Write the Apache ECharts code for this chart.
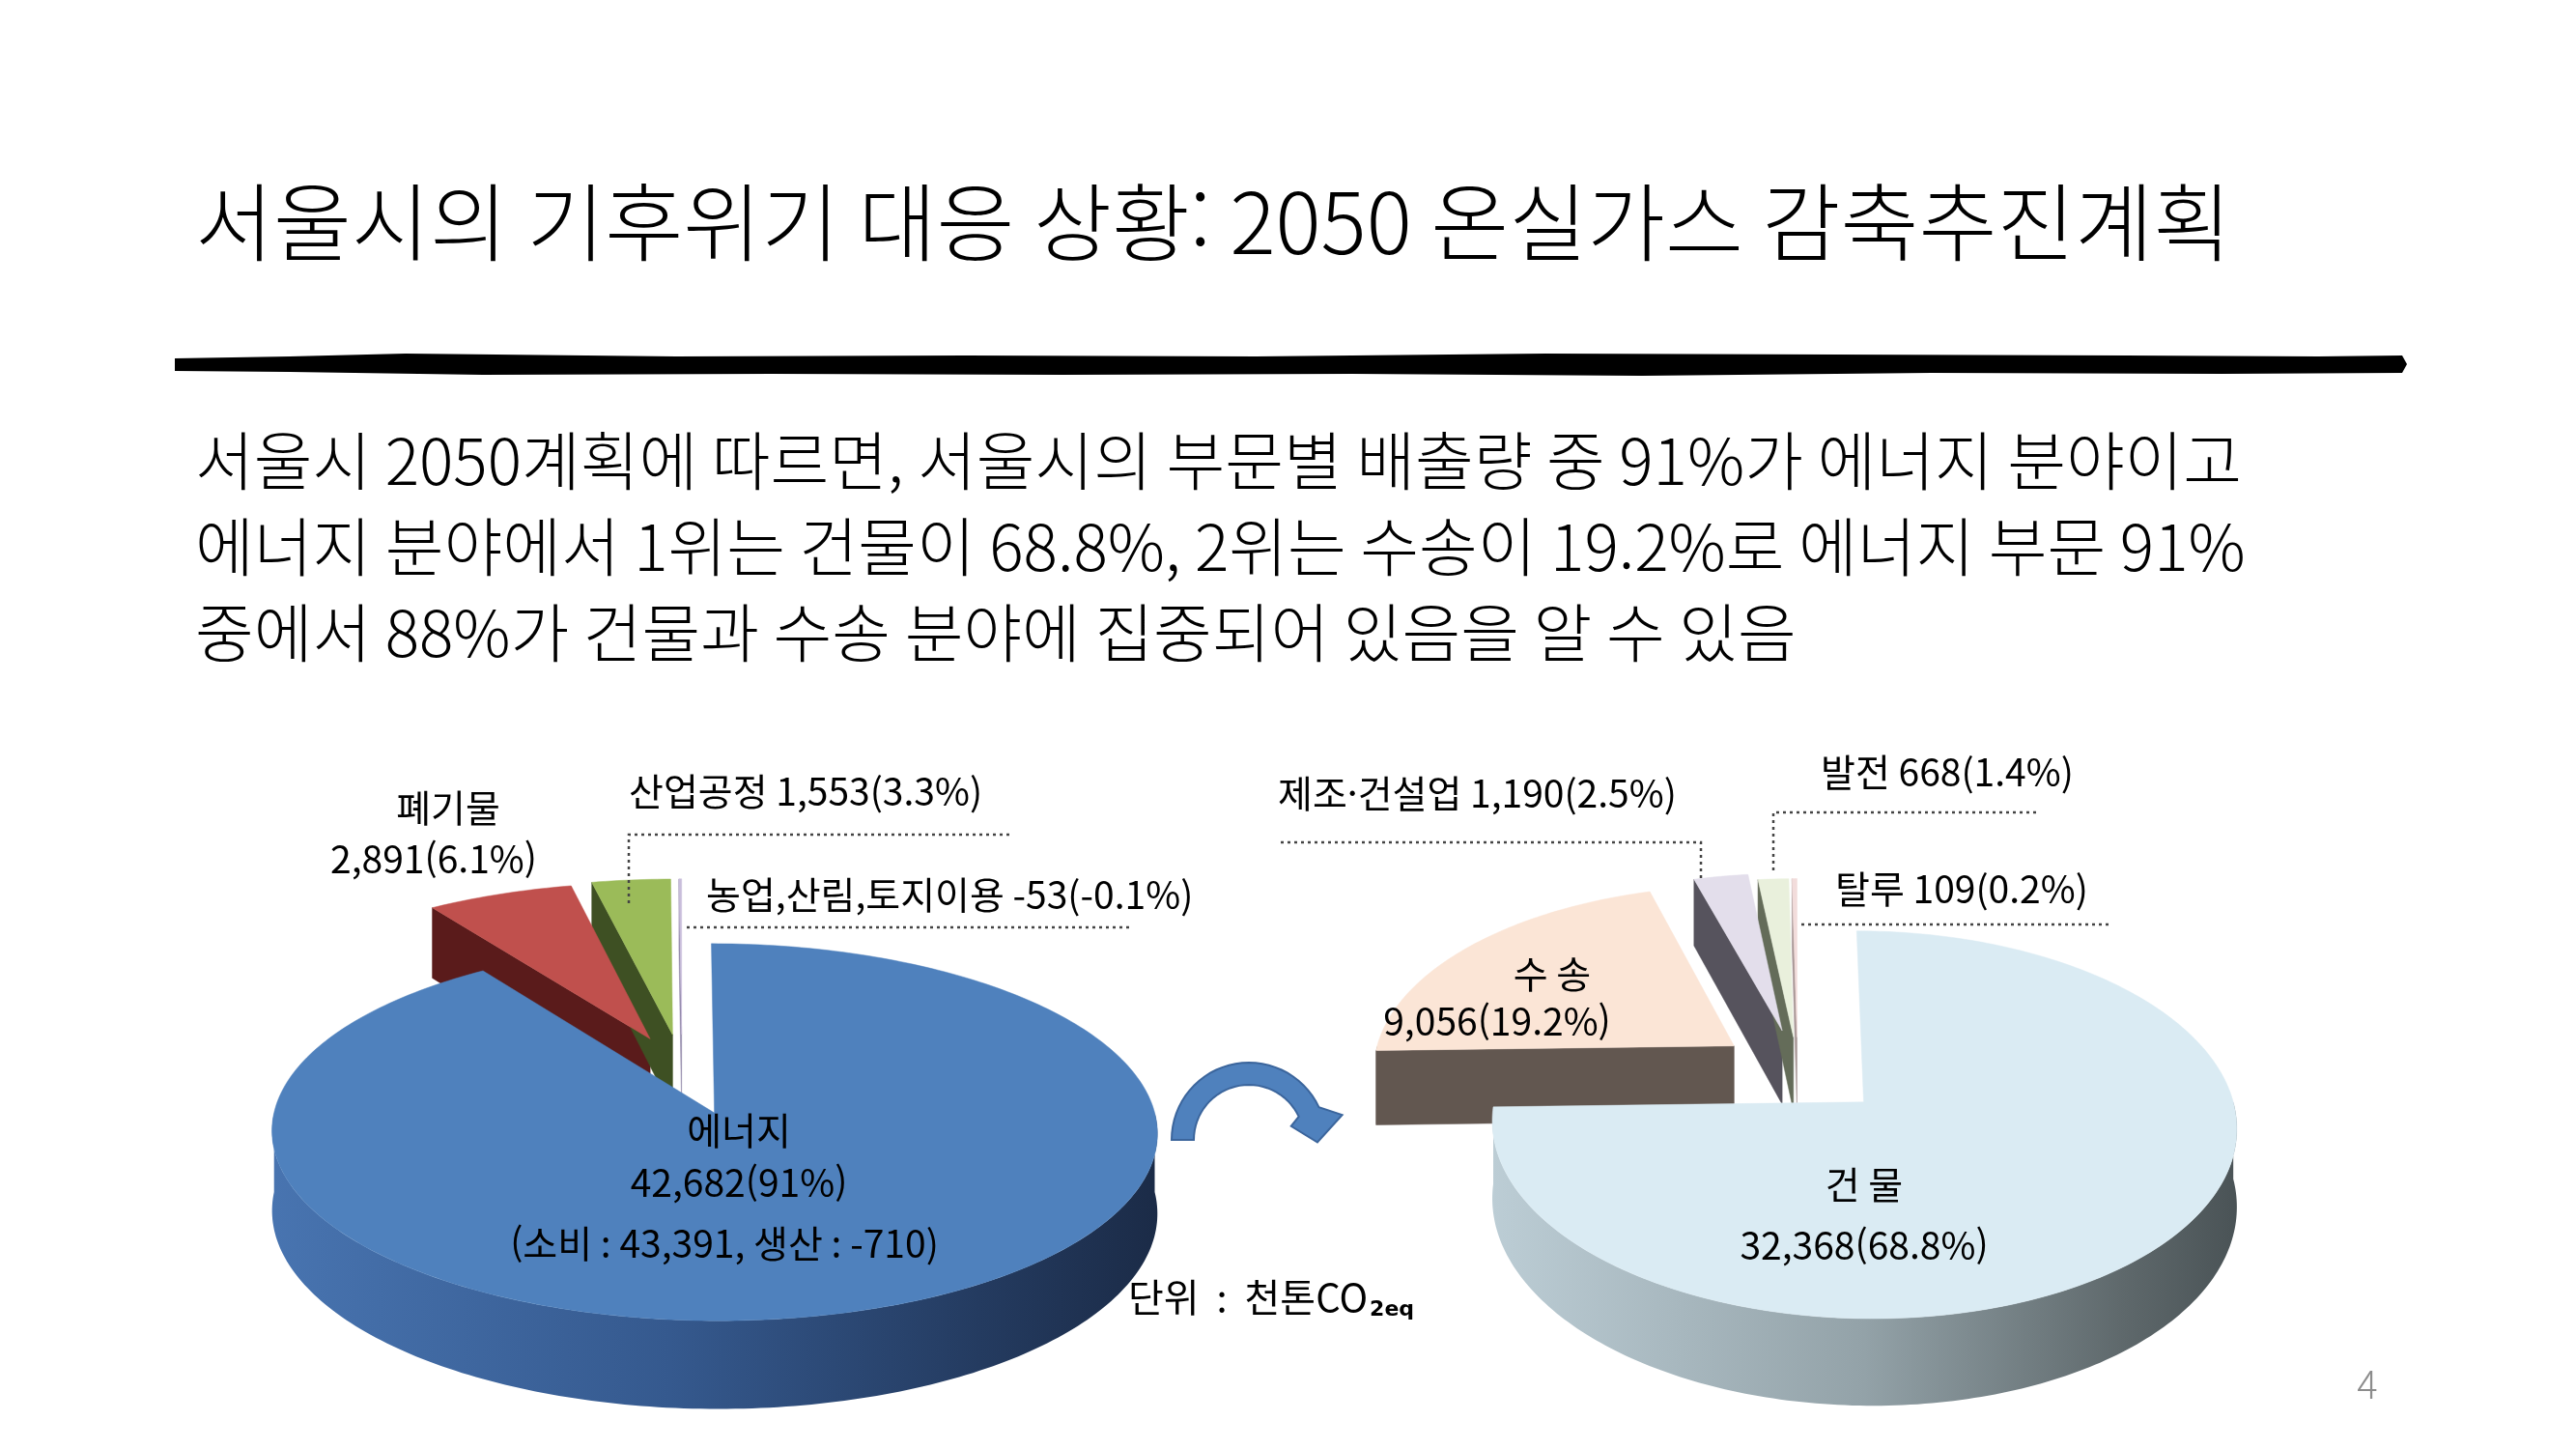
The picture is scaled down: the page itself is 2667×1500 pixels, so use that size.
<!DOCTYPE html>
<html lang="ko">
<head>
<meta charset="UTF-8">
<title>서울시 2050 온실가스 감축추진계획</title>
<style>
  html, body { margin: 0; padding: 0; background: #fff; }
  #chart { width: 2667px; height: 1500px; }
</style>
</head>
<body>
<div id="chart"></div>
<script src="https://cdn.jsdelivr.net/npm/echarts@6/dist/echarts.min.js"></script>
<script>
// 부문별 배출량 (천톤CO2eq)
var sectorNames = ['에너지', '폐기물', '산업공정', '농업,산림,토지이용'];
var sectorValues = [42682, 2891, 1553, -53];
var sectorPct = [91, 6.1, 3.3, -0.1];

// 에너지 부문 세부
var energyNames = ['건 물', '수 송', '제조·건설업', '발전', '탈루'];
var energyValues = [32368, 9056, 1190, 668, 109];
var energyPct = [68.8, 19.2, 2.5, 1.4, 0.2];

var energyUse = 43391;   // 소비
var energyProd = -710;   // 생산

var titleText = '서울시의 기후위기 대응 상황: 2050 온실가스 감축추진계획';
var bodyLines = [
  '서울시 2050계획에 따르면, 서울시의 부문별 배출량 중 91%가 에너지 분야이고',
  '에너지 분야에서 1위는 건물이 68.8%, 2위는 수송이 19.2%로 에너지 부문 91%',
  '중에서 88%가 건물과 수송 분야에 집중되어 있음을 알 수 있음'
];

// pie geometry (pixels) and slice looks
var leftGeom = { cx: 706, cy: 1107, rx: 445, ry: 184, depth: 80, persp: 0.1 };
var rightGeom = { cx: 1861, cy: 1107, rx: 375, ry: 190, depth: 78, persp: 0.115 };

var leftLook = [
  { top: '#4f81bd', wall: '#2c4a75', explode: 0.25,
    side: [[0, '#4874b0'], [0.45, '#35598e'], [0.8, '#243b60'], [1, '#1b2b47']] },
  { top: '#c0504d', wall: '#5a1b1b', explode: 0.19 },
  { top: '#9bbb59', wall: '#3e5023', explode: 0.2 },
  { top: '#c8bddb', wall: '#8e84a6', explode: 0.2 }
];
var rightLook = [
  { top: '#daebf3', wall: '#5c666a', explode: 0.25,
    side: [[0, '#bccdd5'], [0.5, '#93a2a8'], [0.85, '#5e686b'], [1, '#4a5356']] },
  { top: '#fbe5d6', wall: '#625750', explode: 0.22 },
  { top: '#e3deeb', wall: '#56535d', explode: 0.22 },
  { top: '#e9f0dc', wall: '#646c59', explode: 0.18 },
  { top: '#f2dcdb', wall: '#a89796', explode: 0.18 }
];

var FONT = "'Noto Sans CJK KR', 'Noto Sans', sans-serif";

function fmt(v) { return v.toLocaleString('en-US'); }
function valPct(vals, pct, i) { return fmt(vals[i]) + '(' + pct[i] + '%)'; }

function project(g, u, v, h) {
  var f = 1 / (1 - g.persp * v);
  return [g.cx + g.rx * u * f, g.cy + (g.ry * v + h * g.depth) * f];
}

// one 3D pie as a custom series, slices from the value arrays
function pieSeries(g, values, look) {
  var abs = values.map(function (v) { return Math.abs(v); });
  var total = abs.reduce(function (a, b) { return a + b; }, 0);
  return {
    type: 'custom',
    coordinateSystem: 'none',
    silent: true,
    animation: false,
    data: abs,
    renderItem: function (params, api) {
      var i = params.dataIndex;
      var before = 0;
      for (var k = 0; k < i; k++) before += abs[k];
      var a0 = before / total * Math.PI * 2;
      var a1 = (before + api.value(0)) / total * Math.PI * 2;
      var st = look[i];
      var m = (a0 + a1) / 2;
      var eu = st.explode * Math.sin(m), ev = -st.explode * Math.cos(m);
      function pt(a, r, h) {
        return project(g, eu + r * Math.sin(a), ev - r * Math.cos(a), h);
      }
      function arc(from, to, h) {
        var n = Math.max(2, Math.ceil((to - from) / (Math.PI / 180)));
        var pts = [];
        for (var j = 0; j <= n; j++) pts.push(pt(from + (to - from) * j / n, 1, h));
        return pts;
      }
      var children = [];
      var s0 = Math.max(a0, Math.PI / 2), s1 = Math.min(a1, Math.PI * 1.5);
      if (s1 > s0) {
        var fill = st.side
          ? new echarts.graphic.LinearGradient(0, 0, 1, 0, st.side.map(function (c) {
              return { offset: c[0], color: c[1] };
            }))
          : st.wall;
        children.push({
          type: 'polygon', z2: 2,
          shape: { points: arc(s0, s1, 0).concat(arc(s0, s1, 1).reverse()) },
          style: { fill: fill }
        });
      }
      function radial(a) {
        return {
          type: 'polygon', z2: 3,
          shape: { points: [pt(a, 0, 0), pt(a, 1, 0), pt(a, 1, 1), pt(a, 0, 1)] },
          style: { fill: st.wall, stroke: st.wall, lineWidth: 0.5 }
        };
      }
      if (Math.sin(a0) < -1e-6) children.push(radial(a0));
      if (Math.sin(a1) > 1e-6) children.push(radial(a1));
      children.push({
        type: 'polygon', z2: 10,
        shape: { points: [pt(a0, 0, 0)].concat(arc(a0, a1, 0)) },
        style: { fill: st.top, stroke: st.top, lineWidth: 0.5 }
      });
      return { type: 'group', children: children };
    }
  };
}

var graphics = [];
function text(x, y, str, size, align, opts) {
  opts = opts || {};
  graphics.push({
    type: 'text', x: x, y: y, z: 100, silent: true,
    style: {
      text: str, fill: opts.color || '#000',
      fontSize: size, fontFamily: FONT, fontWeight: opts.weight || 'normal',
      textAlign: align, textVerticalAlign: 'middle',
      rich: opts.rich
    }
  });
}
function dotted(points) {
  graphics.push({
    type: 'polyline', z: 100, silent: true,
    shape: { points: points },
    style: { stroke: '#444', lineWidth: 2.5, lineDash: [3, 4], fill: null }
  });
}

// title, rule, body
text(202, 230, titleText, 88, 'left', { weight: 300 });
graphics.push({
  type: 'polygon', z: 100, silent: true,
  shape: { points: [
    [181, 371], [300, 369], [420, 366], [700, 369], [1000, 368], [1300, 369], [1600, 366],
    [1900, 367], [2200, 368], [2400, 369], [2487, 368], [2492, 377], [2487, 386],
    [2300, 387], [2000, 386], [1700, 389], [1400, 387], [1100, 388], [800, 387],
    [500, 388], [300, 385], [181, 384]
  ] },
  style: { fill: '#000' }
});
bodyLines.forEach(function (s, i) { text(202, 477 + i * 89, s, 66, 'left', { weight: 300 }); });

// left pie labels
var LS = 39;
text(464, 836, sectorNames[1], LS, 'center');
text(449, 889, valPct(sectorValues, sectorPct, 1), LS, 'center');
text(651, 819, sectorNames[2] + ' ' + valPct(sectorValues, sectorPct, 2), LS, 'left');
text(731, 926, sectorNames[3] + ' ' + valPct(sectorValues, sectorPct, 3), LS, 'left');
text(765, 1170, sectorNames[0], LS, 'center');
text(765, 1224, valPct(sectorValues, sectorPct, 0), LS, 'center');
text(750, 1287, '(소비 : ' + fmt(energyUse) + ', 생산 : ' + fmt(energyProd) + ')', LS, 'center');
dotted([[651, 935], [651, 864], [1049, 864]]);
dotted([[711, 960], [1173, 960]]);

// right pie labels
text(1323, 821, energyNames[2] + ' ' + valPct(energyValues, energyPct, 2), LS, 'left');
text(1885, 799, energyNames[3] + ' ' + valPct(energyValues, energyPct, 3), LS, 'left');
text(1900, 920, energyNames[4] + ' ' + valPct(energyValues, energyPct, 4), LS, 'left');
text(1607, 1008, energyNames[1], LS, 'center');
text(1550, 1057, valPct(energyValues, energyPct, 1), LS, 'center');
text(1930, 1226, energyNames[0], LS, 'center');
text(1930, 1289, valPct(energyValues, energyPct, 0), LS, 'center');
dotted([[1326, 872], [1761, 872], [1761, 910]]);
dotted([[1836, 901], [1836, 841], [2111, 841]]);
dotted([[1865, 957], [2185, 957]]);

// curved arrow between the pies
(function () {
  var cx = 1293, cy = 1180, R = 80, r = 57, pts = [], t;
  function p(ang, rad) { var a = ang * Math.PI / 180; return [cx + rad * Math.cos(a), cy - rad * Math.sin(a)]; }
  for (t = 180; t >= 25; t -= 5) pts.push(p(t, R));
  pts.push(p(25, R));
  pts.push(p(15, 100));
  pts.push(p(-2, 71));
  pts.push(p(18, 46));
  pts.push(p(25, r));
  for (t = 25; t <= 180; t += 5) pts.push(p(t, r));
  graphics.push({
    type: 'polygon', z: 100, silent: true, shape: { points: pts },
    style: { fill: '#4f81bd', stroke: '#3b659c', lineWidth: 2 }
  });
})();

// unit and page number
text(1168, 1343, '{a|단위  :  천톤CO}{b|2eq}', 40, 'left', {
  rich: {
    a: { fontSize: 40, fontFamily: FONT, fill: '#000', verticalAlign: 'bottom' },
    b: { fontSize: 22, fontFamily: 'DejaVu Sans', fontWeight: 'bold', fill: '#000',
         verticalAlign: 'bottom', padding: [0, 0, -4, 2] }
  }
});
text(2451, 1433, '4', 40, 'center', { color: '#8c8c8c', weight: 300 });

var chart = echarts.init(document.getElementById('chart'), null, { renderer: 'canvas' });
chart.setOption({
  backgroundColor: '#fff',
  animation: false,
  series: [
    pieSeries(leftGeom, sectorValues, leftLook),
    pieSeries(rightGeom, energyValues, rightLook)
  ],
  graphic: { elements: graphics }
});
</script>
</body>
</html>
